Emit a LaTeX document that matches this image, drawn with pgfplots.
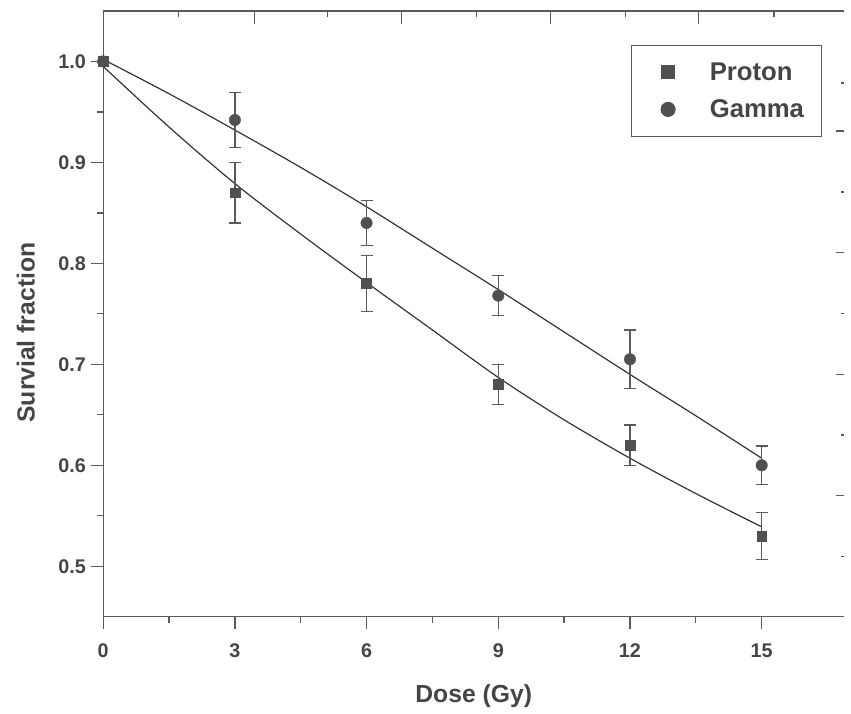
\documentclass[border=0pt]{standalone}
\usepackage{pgfplots}
\pgfplotsset{compat=1.18}
\usepackage{fontspec}
\setmainfont{Liberation Sans}

\definecolor{axgray}{HTML}{5A5A5A}
\definecolor{txtgray}{HTML}{454545}
\definecolor{mkgray}{HTML}{505050}
\definecolor{lngray}{HTML}{333333}

\begin{document}
\begin{tikzpicture}
\pgfplotsset{
  base/.style={
    scale only axis, width=747bp, height=610.7bp,
    xmin=0, xmax=16.88, ymin=0.45, ymax=1.05,
    axis line style={-, draw=axgray, line width=1.3bp},
    tick style={draw=axgray, line width=1.3bp},
  },
  errs/.style={
    error bars/.cd, y dir=both, y explicit,
    error bar style={line width=1.3bp, draw=axgray},
    error mark options={rotate=90, mark size=6bp, line width=1.3bp, draw=axgray},
  },
}
% main axis
\begin{axis}[base,
  axis x line*=bottom, axis y line*=left,
  tick align=outside, major tick length=12bp, minor tick length=6bp,
  xtick={0,3,6,9,12,15}, minor x tick num=1,
  ytick={0.5,0.6,0.7,0.8,0.9,1.0}, minor y tick num=1,
  /pgf/number format/assume math mode=true,
  y tick label style={/pgf/number format/fixed, /pgf/number format/fixed zerofill,
    /pgf/number format/precision=1, xshift=-2bp},
  x tick label style={yshift=-12bp},
  tick label style={font=\fontsize{20}{22}\selectfont\bfseries, text=txtgray},
  xlabel={Dose (Gy)}, ylabel={Survial fraction},
  every axis x label/.style={at={(axis description cs:0.5,0)}, anchor=center, yshift=-80bp,
    font=\fontsize{25}{28}\selectfont\bfseries, text=txtgray},
  every axis y label/.style={at={(axis description cs:0,0.469)}, anchor=center, rotate=90, yshift=78bp,
    font=\fontsize{25}{28}\selectfont\bfseries, text=txtgray},
  legend style={at={(0.9704,0.943)}, anchor=north east, draw=axgray, line width=0.8bp,
    font=\fontsize{26}{30}\selectfont\bfseries, text=txtgray,
    inner xsep=16bp, inner ysep=15bp, row sep=14bp, column sep=31bp, cells={anchor=west}},
  legend image code/.code={
    \path[draw=none, fill=none] (0bp,0bp) -- (30bp,0bp);
    \draw[#1] plot coordinates {(21bp,0bp)};
  },
  clip=false,
]
% fitted curves
\addplot[lngray, line width=1.2bp, smooth, forget plot] coordinates {
  (0,0.995) (1.5,0.935) (3,0.879) (4.5,0.829) (6,0.781) (7.5,0.734)
  (9,0.687) (10.5,0.645) (12,0.607) (13.5,0.572) (15,0.539)
};
\addplot[lngray, line width=1.2bp, smooth, forget plot] coordinates {
  (0,1.002) (1.5,0.968) (3,0.932) (4.5,0.895) (6,0.856) (7.5,0.815)
  (9,0.774) (10.5,0.732) (12,0.690) (13.5,0.649) (15,0.607)
};
% Proton
\addplot[only marks, mark=square*, mark size=5bp, mkgray, mark options={draw=mkgray, fill=mkgray},
  legend image post style={mark size=6.5bp}, errs]
coordinates {
  (0,1.000) +- (0,0)
  (3,0.870) +- (0,0.030)
  (6,0.780) +- (0,0.0275)
  (9,0.680) +- (0,0.020)
  (12,0.620) +- (0,0.020)
  (15,0.530) +- (0,0.023)
};
\addlegendentry{Proton}
% Gamma
\addplot[only marks, mark=*, mark size=5.8bp, mkgray, mark options={draw=mkgray, fill=mkgray},
  legend image post style={mark size=7.2bp}, errs]
coordinates {
  (0,1.000) +- (0,0)
  (3,0.942) +- (0,0.027)
  (6,0.840) +- (0,0.022)
  (9,0.768) +- (0,0.020)
  (12,0.705) +- (0,0.029)
  (15,0.600) +- (0,0.019)
};
\addlegendentry{Gamma}
\end{axis}
% top axis with its own tick spacing
\begin{axis}[base,
  axis x line*=top, axis y line=none,
  tick align=inside, major tick length=13bp, minor tick length=6bp,
  xtick={3.44,6.80,10.19,13.56}, minor xtick={1.72,5.11,8.50,11.89,15.28},
  xticklabels={},
]
\addplot[draw=none, forget plot] coordinates {(0,0.5)};
\end{axis}
% ticks of the right axis (line itself falls outside the picture)
\begin{axis}[base,
  axis x line=none, axis y line*=right,
  y axis line style={draw=none},
  tick align=inside, major tick length=8bp, minor tick length=3bp,
  ytick={0.5704,0.6901,0.8106,0.9311}, minor ytick={0.5094,0.6300,0.7505,0.8706,0.9786},
  yticklabels={},
]
\addplot[draw=none, forget plot] coordinates {(0,0.5)};
\end{axis}
\path (-104bp,-97.3bp) rectangle (747bp,621.7bp);
\end{tikzpicture}
\end{document}
